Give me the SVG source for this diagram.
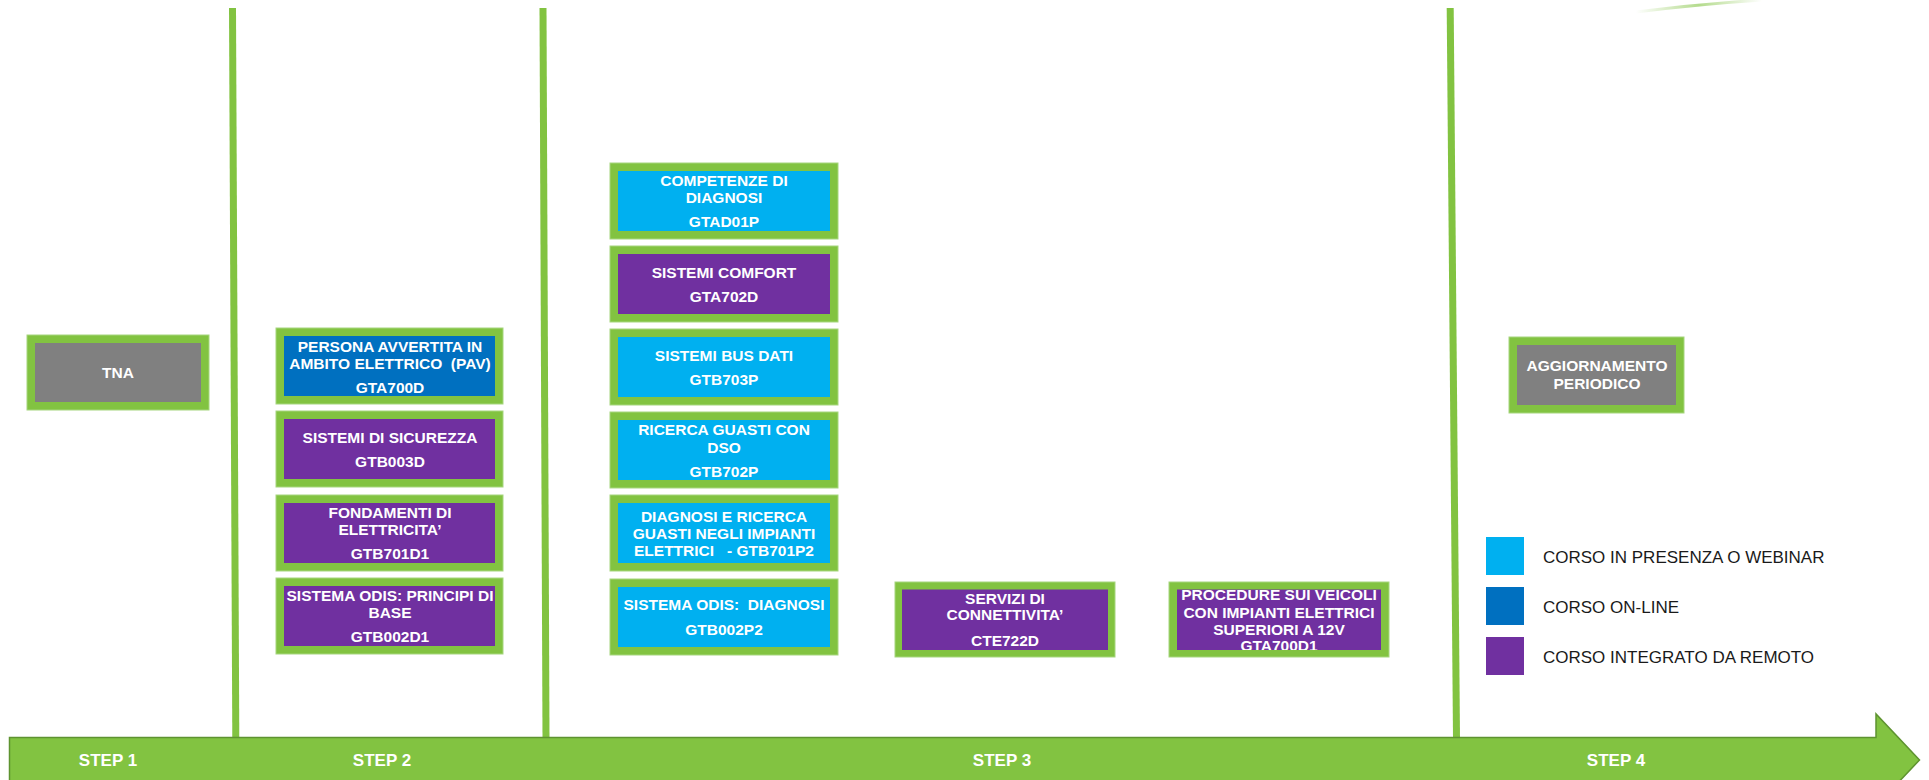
<svg xmlns="http://www.w3.org/2000/svg" width="1929" height="780" viewBox="0 0 1929 780">
<defs>
<style>
.frame{fill:#82C341;stroke:#A6D67E;stroke-width:1}
.cyan{fill:#00B0F0}
.blue{fill:#0070C0}
.purple{fill:#7030A0}
.grey{fill:#808080}
.bt{font-family:"Liberation Sans",Arial,sans-serif;font-weight:bold;font-size:15.5px;fill:#FFFFFF;text-anchor:middle}
.st{font-family:"Liberation Sans",Arial,sans-serif;font-weight:bold;font-size:17px;fill:#FFFFFF;text-anchor:middle}
.lg{font-family:"Liberation Sans",Arial,sans-serif;font-size:17px;fill:#1A1A1A}
.vl{stroke:#82C341;stroke-width:7;fill:none}
</style>
<linearGradient id="sw" x1="0" y1="0" x2="1" y2="0">
<stop offset="0" stop-color="#82C341" stop-opacity="0"/>
<stop offset="0.5" stop-color="#82C341" stop-opacity="0.6"/>
<stop offset="1" stop-color="#82C341" stop-opacity="0"/>
</linearGradient>
<clipPath id="clipProc"><rect x="1169" y="575" width="220" height="75"/></clipPath>
</defs>
<rect width="1929" height="780" fill="#FFFFFF"/>

<path d="M1636 12 Q1700 4 1762 0" stroke="url(#sw)" stroke-width="3" fill="none"/>

<g id="connectors">
<line class="vl" x1="232.5" y1="8" x2="235.8" y2="738"/>
<line class="vl" x1="543" y1="8" x2="546" y2="738"/>
<line class="vl" x1="1450.2" y1="8" x2="1456.5" y2="738"/>
</g>

<g id="timeline">
<path d="M9.5 737.5 L1876 737.5 L1876 714 L1919.5 760 L1876 806 L1876 783 L9.5 783 Z" fill="#82C341" stroke="#5E9330" stroke-width="1.5"/>
<text class="st" x="108" y="766">STEP 1</text>
<text class="st" x="382" y="766">STEP 2</text>
<text class="st" x="1002" y="766">STEP 3</text>
<text class="st" x="1616" y="766">STEP 4</text>
</g>

<g id="tna">
<rect class="frame" x="27" y="335" width="182" height="75"/>
<rect class="grey" x="35" y="343" width="166" height="59"/>
<text class="bt" x="118" y="378">TNA</text>
</g>

<g id="gta700d">
<rect class="frame" x="276" y="328" width="227" height="76"/>
<rect class="blue" x="284" y="336" width="211" height="60"/>
<text class="bt" x="390" y="352">PERSONA AVVERTITA IN</text>
<text class="bt" x="390" y="369" xml:space="preserve">AMBITO ELETTRICO  (PAV)</text>
<text class="bt" x="390" y="393">GTA700D</text>
</g>

<g id="gtb003d">
<rect class="frame" x="276" y="411" width="227" height="76"/>
<rect class="purple" x="284" y="419" width="211" height="60"/>
<text class="bt" x="390" y="442.5">SISTEMI DI SICUREZZA</text>
<text class="bt" x="390" y="466.5">GTB003D</text>
</g>

<g id="gtb701d1">
<rect class="frame" x="276" y="495" width="227" height="76"/>
<rect class="purple" x="284" y="503" width="211" height="60"/>
<text class="bt" x="390" y="517.5">FONDAMENTI DI</text>
<text class="bt" x="390" y="535">ELETTRICITA’</text>
<text class="bt" x="390" y="559">GTB701D1</text>
</g>

<g id="gtb002d1">
<rect class="frame" x="276" y="578" width="227" height="76"/>
<rect class="purple" x="284" y="586" width="211" height="60"/>
<text class="bt" x="390" y="601">SISTEMA ODIS: PRINCIPI DI</text>
<text class="bt" x="390" y="618">BASE</text>
<text class="bt" x="390" y="642">GTB002D1</text>
</g>

<g id="gtad01p">
<rect class="frame" x="610" y="163" width="228" height="76"/>
<rect class="cyan" x="618" y="171" width="212" height="60"/>
<text class="bt" x="724" y="186">COMPETENZE DI</text>
<text class="bt" x="724" y="203">DIAGNOSI</text>
<text class="bt" x="724" y="227">GTAD01P</text>
</g>

<g id="gta702d">
<rect class="frame" x="610" y="246" width="228" height="76"/>
<rect class="purple" x="618" y="254" width="212" height="60"/>
<text class="bt" x="724" y="277.5">SISTEMI COMFORT</text>
<text class="bt" x="724" y="301.5">GTA702D</text>
</g>

<g id="gtb703p">
<rect class="frame" x="610" y="329" width="228" height="76"/>
<rect class="cyan" x="618" y="337" width="212" height="60"/>
<text class="bt" x="724" y="361">SISTEMI BUS DATI</text>
<text class="bt" x="724" y="385">GTB703P</text>
</g>

<g id="gtb702p">
<rect class="frame" x="610" y="412" width="228" height="76"/>
<rect class="cyan" x="618" y="420" width="212" height="60"/>
<text class="bt" x="724" y="435">RICERCA GUASTI CON</text>
<text class="bt" x="724" y="452.5">DSO</text>
<text class="bt" x="724" y="476.5">GTB702P</text>
</g>

<g id="gtb701p2">
<rect class="frame" x="610" y="495" width="228" height="76"/>
<rect class="cyan" x="618" y="503" width="212" height="60"/>
<text class="bt" x="724" y="521.5">DIAGNOSI E RICERCA</text>
<text class="bt" x="724" y="538.5">GUASTI NEGLI IMPIANTI</text>
<text class="bt" x="724" y="555.5" xml:space="preserve">ELETTRICI   - GTB701P2</text>
</g>

<g id="gtb002p2">
<rect class="frame" x="610" y="579" width="228" height="76"/>
<rect class="cyan" x="618" y="587" width="212" height="60"/>
<text class="bt" x="724" y="610" xml:space="preserve">SISTEMA ODIS:  DIAGNOSI</text>
<text class="bt" x="724" y="635">GTB002P2</text>
</g>

<g id="cte722d">
<rect class="frame" x="895" y="582" width="220" height="75"/>
<rect class="purple" x="902" y="589.5" width="206" height="60.5"/>
<text class="bt" x="1005" y="604">SERVIZI DI</text>
<text class="bt" x="1005" y="620">CONNETTIVITA’</text>
<text class="bt" x="1005" y="646">CTE722D</text>
</g>

<g id="gta700d1">
<rect class="frame" x="1169" y="582" width="220" height="75"/>
<rect class="purple" x="1177" y="589.5" width="204" height="60.5"/>
<g clip-path="url(#clipProc)">
<text class="bt" x="1279" y="600">PROCEDURE SUI VEICOLI</text>
<text class="bt" x="1279" y="617.5">CON IMPIANTI ELETTRICI</text>
<text class="bt" x="1279" y="635">SUPERIORI A 12V</text>
<text class="bt" x="1279" y="651">GTA700D1</text>
</g>
</g>

<g id="aggiornamento">
<rect class="frame" x="1509" y="337" width="175" height="76"/>
<rect class="grey" x="1517" y="345" width="159" height="60"/>
<text class="bt" x="1597" y="371">AGGIORNAMENTO</text>
<text class="bt" x="1597" y="389">PERIODICO</text>
</g>

<g id="legend">
<rect class="cyan" x="1486" y="537" width="38" height="38"/>
<text class="lg" x="1543" y="563">CORSO IN PRESENZA O WEBINAR</text>
<rect class="blue" x="1486" y="587" width="38" height="38"/>
<text class="lg" x="1543" y="613">CORSO ON-LINE</text>
<rect class="purple" x="1486" y="637" width="38" height="38"/>
<text class="lg" x="1543" y="663">CORSO INTEGRATO DA REMOTO</text>
</g>
</svg>
